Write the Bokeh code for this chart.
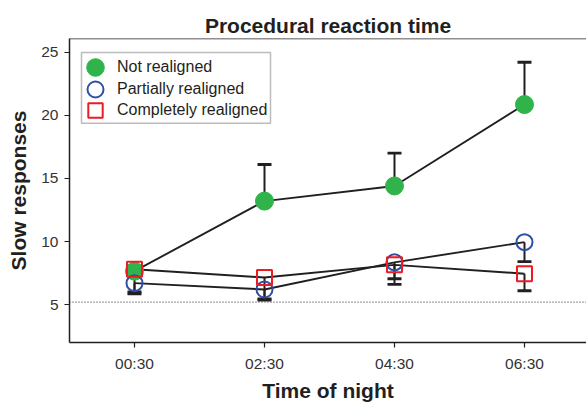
from bokeh.plotting import figure
from bokeh.models import (Range1d, FixedTicker, Span, Whisker, TeeHead, ColumnDataSource,
                          Legend, LegendItem, BoxAnnotation)
from bokeh.embed import file_html
from bokeh.resources import INLINE

# ---- data ----
times = ["00:30", "02:30", "04:30", "06:30"]
not_realigned = [7.65, 13.2, 14.4, 20.85]
not_realigned_upper = [8.05, 16.1, 17.0, 24.2]
partially = [6.7, 6.2, 8.35, 9.95]
partially_lower = [5.85, 5.35, 6.6, 8.4]
completely = [7.8, 7.15, 8.15, 7.45]
completely_lower = [6.0, 5.45, 7.05, 6.1]
y_ticks = [5, 10, 15, 20, 25]
baseline = 5.2

FONT = "Liberation Sans"
INK = "#231f20"
GREEN = "#2fb34a"
BLUE = "#2e4fa3"
RED = "#ec1c24"

xs = list(range(len(times)))

p = figure(width=586, height=404, output_backend="svg", toolbar_location=None,
           x_range=Range1d(-0.5, 3.477), y_range=Range1d(2.0, 26.08),
           min_border_left=69, min_border_right=0, min_border_top=38, min_border_bottom=62)

p.title.text = "Procedural reaction time"
p.title.text_font = FONT
p.title.text_font_size = "21px"
p.title.text_font_style = "bold"
p.title.text_color = INK
p.title.align = "center"
p.title.standoff = 3

p.outline_line_color = None
p.xgrid.visible = False
p.ygrid.visible = False
p.background_fill_color = "white"
p.border_fill_color = "white"

for ax in (p.xaxis[0], p.yaxis[0]):
    ax.axis_line_color = INK
    ax.axis_line_width = 1.5
    ax.major_tick_line_color = INK
    ax.major_tick_line_width = 1.2
    ax.major_tick_out = 5
    ax.major_tick_in = 0
    ax.minor_tick_line_color = None
    ax.major_label_text_font = FONT
    ax.major_label_text_font_size = "15.5px"
    ax.major_label_text_color = "#333333"
    ax.axis_label_text_font = FONT
    ax.axis_label_text_font_size = "21px"
    ax.axis_label_text_font_style = "bold"
    ax.axis_label_text_color = INK

p.xaxis.ticker = FixedTicker(ticks=xs)
p.xaxis.major_label_overrides = {i: t for i, t in zip(xs, times)}
p.xaxis.axis_label = "Time of night"
p.xaxis.major_label_standoff = 7
p.xaxis.axis_label_standoff = 4

p.yaxis.ticker = FixedTicker(ticks=y_ticks)
p.yaxis.axis_label = "Slow responses"
p.yaxis.major_label_standoff = 6
p.yaxis.axis_label_standoff = 8

# top frame line
p.add_layout(Span(location=p.y_range.end, dimension="width", line_color=INK, line_width=1.5))
# dotted reference line
p.add_layout(Span(location=baseline, dimension="width", line_color=INK, line_width=1,
                  line_dash="1 2"))

src_g = ColumnDataSource(dict(x=xs, y=not_realigned, hi=not_realigned_upper))
src_b = ColumnDataSource(dict(x=xs, y=partially, lo=partially_lower))
src_r = ColumnDataSource(dict(x=xs, y=completely, lo=completely_lower))

for s in (src_g, src_b, src_r):
    p.line("x", "y", source=s, line_color=INK, line_width=1.9)

r_g = p.scatter("x", "y", source=src_g, marker="circle", size=18, fill_color=GREEN,
                line_color=GREEN)

p.add_layout(Whisker(base="x", lower="y", upper="hi", source=src_g, line_color=INK,
                     line_width=2, lower_head=None,
                     upper_head=TeeHead(size=14, line_width=2.8, line_color=INK)))
p.add_layout(Whisker(base="x", upper="y", lower="lo", source=src_b, line_color=INK,
                     line_width=2, upper_head=None,
                     lower_head=TeeHead(size=14, line_width=2.8, line_color=INK)))
p.add_layout(Whisker(base="x", upper="y", lower="lo", source=src_r, line_color=INK,
                     line_width=2, upper_head=None,
                     lower_head=TeeHead(size=14, line_width=2.8, line_color=INK)))

r_b = p.scatter("x", "y", source=src_b, marker="circle", size=16, fill_color=None,
                line_color=BLUE, line_width=2)
r_r = p.scatter("x", "y", source=src_r, marker="square", size=15, fill_color=None,
                line_color=RED, line_width=2)

# legend: one single-item legend per series so that each symbol keeps its own size
def add_entry(renderer, label, glyph_h, y_center):
    lg = Legend(items=[LegendItem(label=label, renderers=[renderer])],
                location=(4, y_center - glyph_h / 2),
                glyph_width=44, glyph_height=glyph_h, label_height=20,
                label_standoff=0, padding=0, margin=0, spacing=0,
                border_line_color=None, background_fill_alpha=0,
                label_text_font=FONT, label_text_font_size="16px",
                label_text_color=INK)
    p.add_layout(lg)

add_entry(r_g, "Not realigned", 44, 275)
add_entry(r_b, "Partially realigned", 40, 253.5)
add_entry(r_r, "Completely realigned", 36, 232.3)

p.add_layout(BoxAnnotation(left=12, right=201, top=290, bottom=219.3,
                           left_units="screen", right_units="screen",
                           top_units="screen", bottom_units="screen",
                           fill_color=None, fill_alpha=0, line_color=INK, line_width=1.5))

open("out.html", "w").write(file_html(p, INLINE))
